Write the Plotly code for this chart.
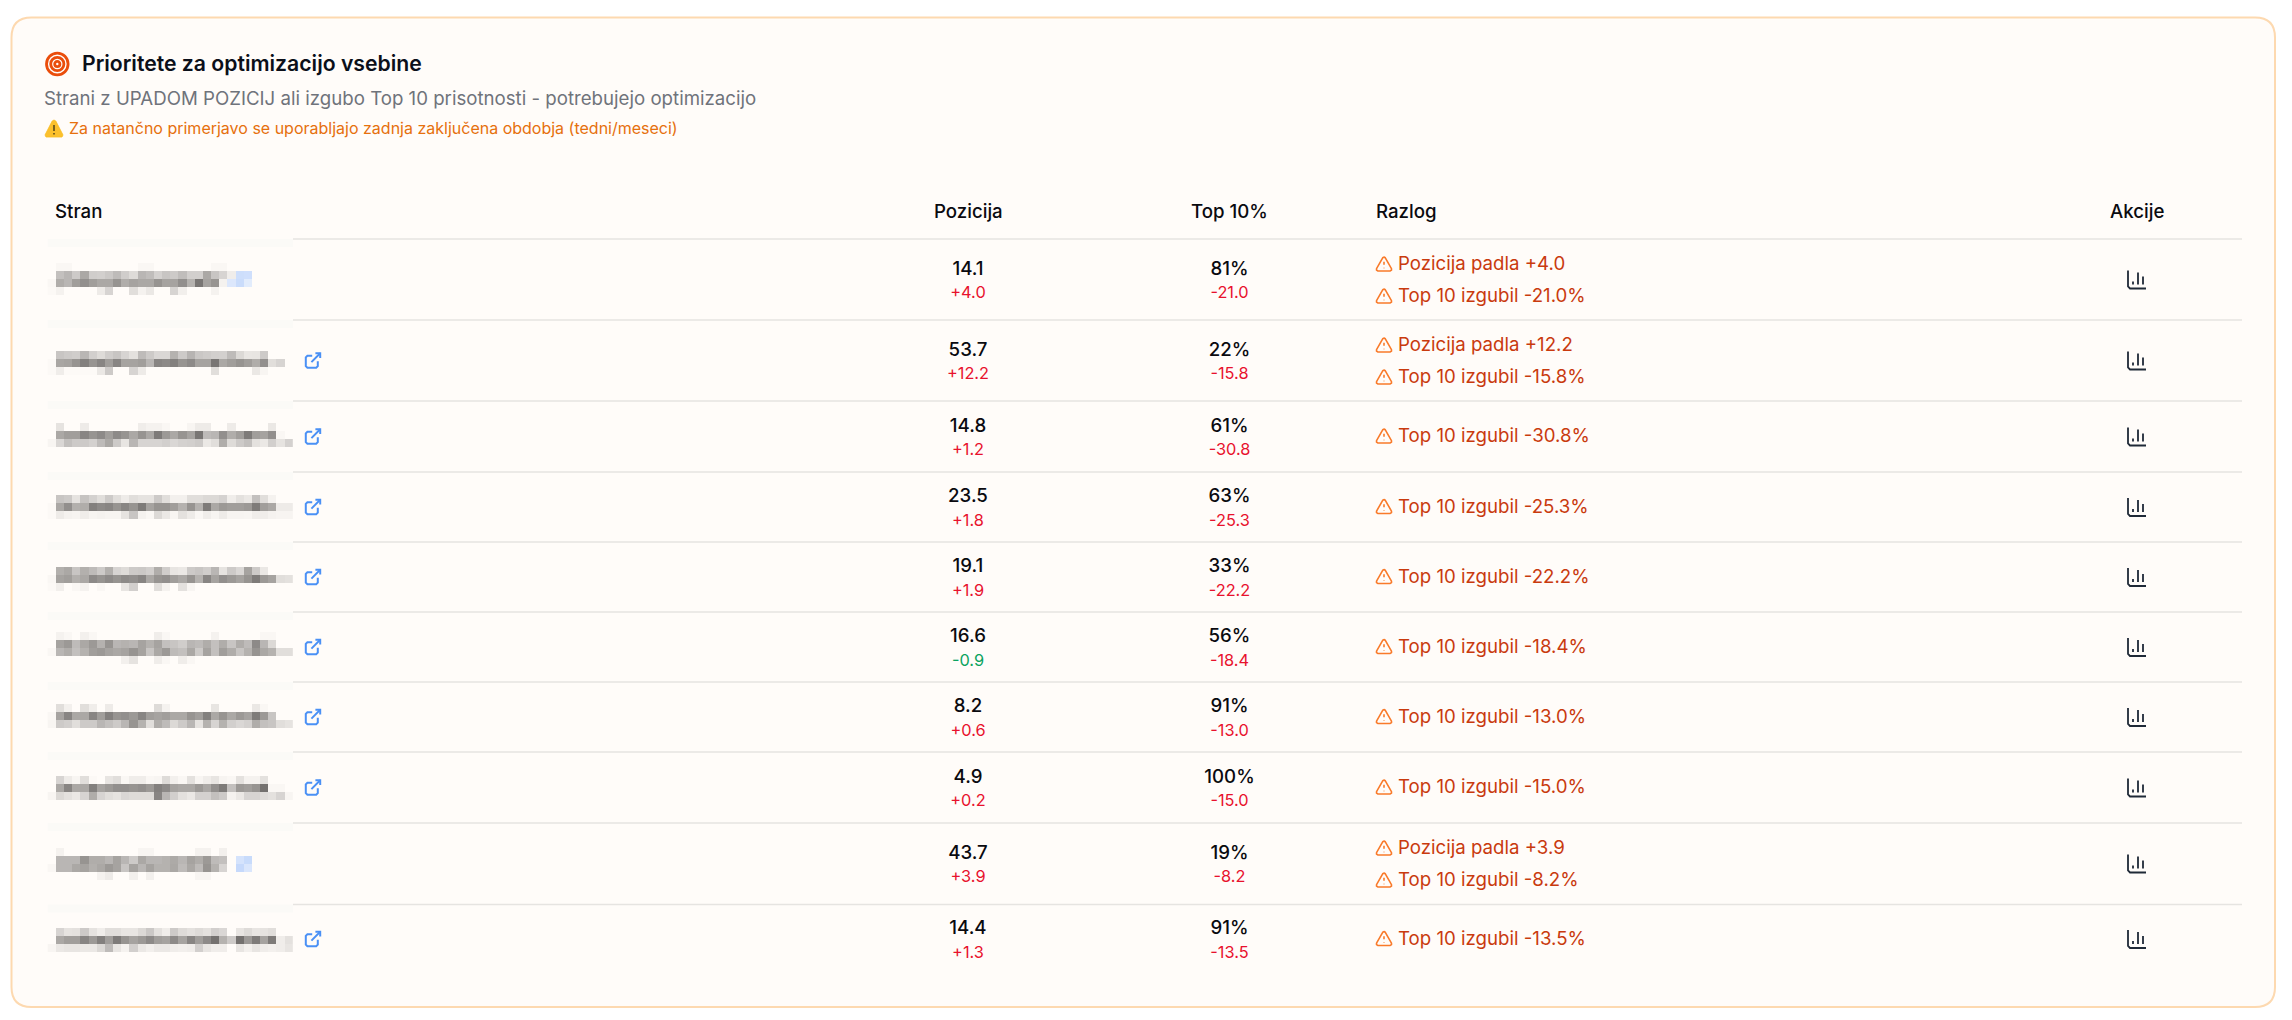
import numpy as np
import plotly.graph_objects as go

# table values
pozicija = [14.1, 53.7, 14.8, 23.5, 19.1, 16.6, 8.2, 4.9, 43.7, 14.4]
pozicija_delta = [4.0, 12.2, 1.2, 1.8, 1.9, -0.9, 0.6, 0.2, 3.9, 1.3]
top10 = [81, 22, 61, 63, 33, 56, 91, 100, 19, 91]
top10_delta = [-21.0, -15.8, -30.8, -25.3, -22.2, -18.4, -13.0, -15.0, -8.2, -13.5]
pozicija_padla = [True, True, False, False, False, False, False, False, True, False]
has_link = [False, True, True, True, True, True, True, True, False, True]

# pixelated page names: lightness of each block, 0 = nothing there
name_1 = [
    [0, 250, 250, 0, 0, 0, 0, 0, 0, 0, 0, 250, 250, 0, 0, 0, 0, 0, 0, 0, 250, 250],
    [0, 195, 185, 205, 170, 208, 210, 203, 190, 208, 222, 185, 192, 212, 200, 205, 192, 210, 210, 170, 200, 215, 240],
    [250, 175, 185, 160, 145, 160, 170, 170, 150, 175, 165, 170, 170, 150, 165, 165, 145, 180, 120, 165, 150, 245],
    [252, 245, 0, 0, 0, 0, 238, 215, 0, 0, 225, 245, 235, 0, 0, 215, 242, 0, 0, 0, 245],
]
name_2 = [
    [0, 200, 205, 208, 185, 210, 222, 208, 200, 215, 228, 190, 205, 218, 218, 180, 205, 183, 202, 206, 210, 211, 190, 220, 233, 232, 205],
    [252, 168, 165, 150, 130, 150, 135, 160, 135, 165, 165, 160, 185, 135, 140, 130, 150, 140, 165, 165, 120, 170, 160, 150, 160, 175, 145, 225, 215],
    [252, 240, 253, 253, 253, 253, 235, 205, 0, 0, 215, 238, 0, 0, 0, 0, 0, 0, 0, 0, 225, 0, 0, 0, 0, 235, 248],
]
name_3 = [
    [0, 230, 0, 0, 238, 0, 0, 0, 0, 0, 0, 240, 245, 245, 250, 0, 0, 248, 238, 238, 0, 0, 238, 0, 0, 0, 0, 235],
    [0, 170, 160, 160, 135, 150, 140, 160, 140, 150, 170, 150, 170, 125, 155, 170, 150, 165, 120, 190, 185, 145, 175, 160, 125, 160, 165, 145, 250],
    [248, 218, 195, 205, 205, 212, 190, 170, 205, 232, 185, 215, 215, 215, 210, 218, 212, 210, 205, 235, 225, 175, 222, 205, 195, 228, 235, 210, 230, 212],
]
name_4 = [
    [0, 200, 205, 230, 198, 212, 225, 205, 225, 238, 225, 230, 230, 205, 225, 243, 243, 225, 225, 220, 220, 213, 240, 228, 235, 195, 225, 245],
    [252, 170, 145, 178, 175, 130, 140, 135, 150, 135, 150, 125, 165, 150, 150, 160, 180, 150, 180, 125, 170, 155, 160, 160, 155, 125, 160, 170, 238, 238],
    [252, 238, 245, 247, 240, 247, 245, 247, 247, 230, 200, 245, 250, 220, 235, 248, 228, 238, 250, 240, 247, 238, 247, 247, 248, 240, 240, 245, 247, 247],
]
name_5 = [
    [0, 178, 170, 200, 178, 190, 205, 178, 215, 222, 205, 203, 210, 175, 208, 232, 235, 205, 200, 208, 185, 230, 205, 218, 165, 205, 235],
    [250, 165, 160, 178, 170, 140, 150, 140, 150, 140, 145, 135, 170, 150, 145, 160, 170, 150, 180, 135, 165, 145, 155, 165, 150, 125, 155, 165, 225, 228],
    [252, 242, 0, 250, 245, 0, 250, 0, 0, 232, 210, 0, 0, 225, 245, 0, 228, 248],
]
name_6 = [
    [0, 245, 250, 0, 243, 250, 0, 0, 0, 0, 0, 0, 0, 240, 250, 0, 0, 0, 0, 0, 245, 0, 0, 0, 0, 0, 250, 250],
    [0, 165, 155, 190, 170, 155, 180, 150, 185, 180, 185, 165, 180, 165, 195, 200, 208, 185, 190, 175, 195, 175, 200, 175, 190, 140, 185, 220],
    [250, 185, 175, 195, 180, 160, 155, 165, 170, 165, 150, 165, 200, 170, 155, 190, 195, 170, 205, 165, 195, 160, 175, 200, 180, 150, 170, 180, 225, 225],
    [0, 0, 0, 0, 0, 0, 0, 0, 0, 243, 230, 0, 0, 240, 250, 0, 240, 250],
]
name_7 = [
    [0, 225, 243, 0, 225, 240, 0, 238, 0, 0, 0, 0, 0, 222, 245, 0, 0, 0, 0, 0, 232, 0, 0, 0, 0, 235, 250],
    [250, 165, 135, 170, 170, 135, 160, 130, 150, 145, 155, 135, 160, 165, 160, 170, 170, 150, 160, 130, 170, 150, 170, 155, 165, 125, 155, 200],
    [248, 205, 210, 225, 205, 205, 185, 195, 205, 185, 150, 180, 225, 175, 190, 220, 205, 185, 230, 180, 215, 180, 210, 218, 212, 175, 195, 200, 225, 230],
]
name_8 = [
    [0, 215, 238, 248, 225, 252, 0, 232, 225, 250, 240, 240, 250, 248, 222, 243, 250, 228, 248, 240, 232, 247, 250, 228, 245, 245, 228],
    [0, 170, 135, 170, 170, 130, 165, 155, 145, 145, 150, 145, 155, 130, 140, 165, 170, 170, 155, 170, 145, 125, 195, 155, 160, 150, 115, 250, 250],
    [248, 220, 228, 235, 215, 175, 215, 225, 230, 218, 222, 222, 222, 135, 185, 210, 228, 235, 212, 212, 195, 205, 245, 235, 215, 215, 222, 228, 215, 248],
]
name_9 = [
    [0, 245, 0, 0, 0, 0, 0, 0, 0, 0, 0, 248, 248, 0, 0, 0, 0, 0, 245, 245, 0, 243],
    [0, 185, 185, 185, 150, 175, 175, 185, 165, 185, 205, 170, 185, 185, 180, 172, 185, 165, 175, 155, 190, 195],
    [250, 185, 185, 170, 165, 178, 170, 155, 165, 200, 165, 185, 165, 180, 180, 170, 190, 170, 190, 150, 180, 215],
    [0, 0, 0, 0, 0, 0, 245, 238, 0, 0, 243, 0, 243, 0, 0, 0, 0, 0, 248, 248],
]
name_10 = [
    [0, 215, 230, 228, 205, 230, 240, 225, 225, 232, 232, 220, 203, 228, 240, 205, 222, 228, 222, 228, 210, 218, 0, 232, 222, 232, 230, 225],
    [0, 170, 160, 160, 135, 155, 130, 160, 125, 150, 165, 155, 140, 160, 165, 140, 165, 135, 160, 140, 115, 180, 205, 115, 155, 125, 165, 125, 240, 228],
    [248, 235, 232, 232, 235, 235, 220, 190, 232, 245, 210, 235, 242, 235, 235, 240, 242, 240, 210, 232, 240, 240, 0, 232, 243, 232, 240, 243, 240, 232],
]
# the two pixelated blue link icons (0..1, dark to pale)
icon_1 = [[-1, .2, .25], [.55, .15, .7]]
icon_9 = [[-1, .4, .1], [-1, .05, .5]]

# layout in page pixels
W, H = 2292, 1020
row_lines = [239, 320, 401, 472, 542, 612, 682, 752, 823, 904.5]
row_mid = [279.5, 360.5, 436.5, 507, 577, 647, 717, 787.5, 863.5, 939]
name_tops = [263, 351, 423, 495, 567, 632, 704, 776, 848, 928]
names = [name_1, name_2, name_3, name_4, name_5, name_6, name_7, name_8, name_9, name_10]
BLOCK_W, BLOCK_H, BLOCK_X0 = 8.167, 8, 47.8
X_POS, X_TOP, X_REASON, X_ACTION, X_LINK = 968, 1229.5, 1398, 2137, 313

TEXT = "#0a0a0f"
RED = "#e8112d"
GREEN = "#0ba360"
REASON = "#c93a0e"
ICON_ORANGE = "#f97a2a"
LINE = "#e6e4e1"
FONT = "Inter"


def blocks(rows, top, first=0):
    """Heatmap trace for a block mosaic, empty blocks stay transparent."""
    z = np.full((len(rows), 30), np.nan)
    for i, row in enumerate(rows):
        for k, v in enumerate(row):
            if v > 0 or first:
                z[i, k + first] = v if v >= 0 else np.nan
    xe = BLOCK_X0 + BLOCK_W * np.arange(31)
    ye = top + BLOCK_H * np.arange(len(rows) + 1)
    return xe, ye, z


def poly(points, cx, cy, scale=1.0):
    return [(cx + scale * (px - 12), cy + scale * (py - 12)) for px, py in points]


def path_of(points, close=False):
    d = "M" + " L".join(f"{a:.2f},{b:.2f}" for a, b in points)
    return d + (" Z" if close else "")


def add_path(fig, d, color, width=1.5, fill=None):
    fig.add_shape(type="path", path=d, xref="x", yref="y", layer="above",
                  line=dict(color=color, width=width),
                  fillcolor=fill if fill else "rgba(0,0,0,0)")


def warning_icon(fig, cx, cy):
    s = 0.77
    tri = [(12, 3), (13.5, 3.8), (21.7, 18), (21.7, 20), (20, 21), (4, 21), (2.3, 20), (2.3, 18), (10.5, 3.8)]
    add_path(fig, path_of(poly(tri, cx, cy, s), True), ICON_ORANGE, 1.6)
    add_path(fig, path_of(poly([(12, 9), (12, 13)], cx, cy, s)), ICON_ORANGE, 1.6)
    add_path(fig, path_of(poly([(12, 17), (12, 17.4)], cx, cy, s)), ICON_ORANGE, 1.6)


def link_icon(fig, cx, cy):
    s = 0.8
    color = "#4a90f5"
    add_path(fig, path_of(poly([(11, 6), (5, 6), (3, 8), (3, 19), (5, 21), (16, 21), (18, 19), (18, 13)], cx, cy, s)), color, 2)
    add_path(fig, path_of(poly([(15, 3), (21, 3), (21, 9)], cx, cy, s)), color, 2)
    add_path(fig, path_of(poly([(10, 14), (21, 3)], cx, cy, s)), color, 2)


def chart_icon(fig, cx, cy):
    s = 1.0
    color = "#1f2937"
    add_path(fig, path_of(poly([(3, 3), (3, 19), (5, 21), (21, 21)], cx, cy, s)), color, 1.8)
    for bx, by in [(8, 14), (13, 5), (18, 9)]:
        add_path(fig, path_of(poly([(bx, 17), (bx, by)], cx, cy, s)), color, 1.8)


fig = go.Figure()

# card
x0, x1, y0, y1, r = 11.5, 2275, 17.5, 1007, 20
card = (f"M{x0 + r},{y0} L{x1 - r},{y0} Q{x1},{y0} {x1},{y0 + r} L{x1},{y1 - r} Q{x1},{y1} {x1 - r},{y1} "
        f"L{x0 + r},{y1} Q{x0},{y1} {x0},{y1 - r} L{x0},{y0 + r} Q{x0},{y0} {x0 + r},{y0} Z")
fig.add_shape(type="path", path=card, xref="x", yref="y", layer="below",
              line=dict(color="#fdd9b0", width=2), fillcolor="#fffcf9")

# row separators, hidden by the pixelation over the name column
for y in row_lines:
    fig.add_shape(type="line", x0=293, x1=2242, y0=y, y1=y, xref="x", yref="y", layer="below",
                  line=dict(color=LINE, width=1.5))
    fig.add_shape(type="rect", x0=47.8, x1=293, y0=y, y1=y + 8, xref="x", yref="y", layer="below",
                  line=dict(width=0), fillcolor="#fbfaf7")

# pixelated names
for rows, top in zip(names, name_tops):
    xe, ye, z = blocks(rows, top)
    fig.add_trace(go.Heatmap(x=xe, y=ye, z=z, zmin=110, zmax=255, showscale=False, hoverinfo="skip",
                             colorscale=[[0, "#6f6c6a"], [1, "#fffcf9"]]))
for rows, top in [(icon_1, 271), (icon_9, 856)]:
    xe, ye, z = blocks(rows, top, first=22)
    fig.add_trace(go.Heatmap(x=xe, y=ye, z=z, zmin=0, zmax=1, showscale=False, hoverinfo="skip",
                             colorscale=[[0, "#c4d8fb"], [1, "#eff4fd"]]))

# numeric columns
mid = np.array(row_mid)
fig.add_trace(go.Scatter(x=[X_POS] * 10, y=mid - 9.5, mode="text", text=[f"{v:.1f}" for v in pozicija],
                         textfont=dict(family=FONT, size=18.67, color=TEXT, weight=500), hoverinfo="skip"))
fig.add_trace(go.Scatter(x=[X_POS] * 10, y=mid + 14.5, mode="text", text=[f"{v:+.1f}" for v in pozicija_delta],
                         textfont=dict(family=FONT, size=16.33, color=[RED if v > 0 else GREEN for v in pozicija_delta]),
                         hoverinfo="skip"))
fig.add_trace(go.Scatter(x=[X_TOP] * 10, y=mid - 9.5, mode="text", text=[f"{v}%" for v in top10],
                         textfont=dict(family=FONT, size=18.67, color=TEXT, weight=500), hoverinfo="skip"))
fig.add_trace(go.Scatter(x=[X_TOP] * 10, y=mid + 14.5, mode="text", text=[f"{v:+.1f}" for v in top10_delta],
                         textfont=dict(family=FONT, size=16.33, color=RED), hoverinfo="skip"))

# reasons
reason_y, reason_text = [], []
for i in range(10):
    if pozicija_padla[i]:
        reason_y += [row_mid[i] - 15.5, row_mid[i] + 16.5]
        reason_text += [f"Pozicija padla {pozicija_delta[i]:+.1f}", f"Top 10 izgubil {top10_delta[i]:+.1f}%"]
    else:
        reason_y.append(row_mid[i] - 0.5)
        reason_text.append(f"Top 10 izgubil {top10_delta[i]:+.1f}%")
fig.add_trace(go.Scatter(x=[X_REASON] * len(reason_y), y=[v + 1.5 for v in reason_y], mode="text", text=reason_text,
                         textposition="middle right",
                         textfont=dict(family=FONT, size=18.67, color=REASON), hoverinfo="skip"))
for y in reason_y:
    warning_icon(fig, 1384, y)

for i in range(10):
    chart_icon(fig, X_ACTION, row_mid[i])
    if has_link[i]:
        link_icon(fig, X_LINK, row_mid[i])

# titles and column headers
def label(x, y, text, size, color, anchor="left", weight=400):
    fig.add_annotation(x=x, y=y, text=text, xref="x", yref="y", showarrow=False, xanchor=anchor, yanchor="middle",
                       font=dict(family=FONT, size=size, color=color, weight=weight))


label(79.5, 63, "Prioritete za optimizacijo vsebine", 21.2, "#0b0f19", weight=600)
label(42, 98, "Strani z UPADOM POZICIJ ali izgubo Top 10 prisotnosti - potrebujejo optimizacijo", 18.67, "#6f737b")
label(66.5, 128, "Za natančno primerjavo se uporabljajo zadnja zaključena obdobja (tedni/meseci)", 16, "#e6700d")
label(53, 211, "Stran", 18.67, TEXT, weight=500)
label(X_POS, 211, "Pozicija", 18.67, TEXT, "center", 500)
label(X_TOP, 211, "Top 10%", 18.67, TEXT, "center", 500)
label(1374, 211, "Razlog", 18.67, TEXT, weight=500)
label(X_ACTION, 211, "Akcije", 18.67, TEXT, "center", 500)

# target icon next to the title
for radius in (10.8, 6.6, 2.6):
    fig.add_shape(type="circle", x0=57.3 - radius, x1=57.3 + radius, y0=64 - radius, y1=64 + radius,
                  xref="x", yref="y", line=dict(color="#ea4d0b", width=2.8))

# warning sign in front of the note
sign = [(54, 120), (55.8, 121), (63, 135), (62, 137), (46, 137), (45, 135), (52.2, 121)]
add_path(fig, path_of(sign, True), "#f9bd22", 0.8, "#fbc02d")
add_path(fig, path_of([(54, 125), (54, 131)]), "#5b4a1a", 1.6)
add_path(fig, path_of([(54, 133), (54, 134.5)]), "#5b4a1a", 1.6)

fig.update_xaxes(range=[0, W], visible=False, fixedrange=True)
fig.update_yaxes(range=[H, 0], visible=False, fixedrange=True)
fig.update_layout(width=W, height=H, margin=dict(l=0, r=0, t=0, b=0), showlegend=False,
                  paper_bgcolor="white", plot_bgcolor="white")

fig.write_html("out.html", config={"displayModeBar": False},
               post_script="document.body.style.margin='0';document.body.style.overflow='hidden';")
